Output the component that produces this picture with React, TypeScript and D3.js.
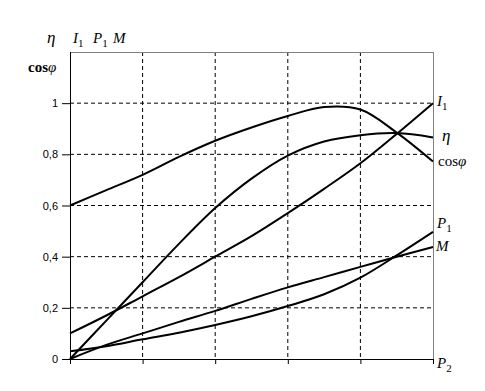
import React, { useEffect, useRef } from 'react';
import * as d3 from 'd3';

// load in relative units (5 grid divisions)
const loads = [0, 0.5, 1, 1.5, 2, 2.5, 3, 3.5, 4, 4.5, 5];

const cosPhi = [0.6, 0.66, 0.72, 0.79, 0.853, 0.905, 0.95, 0.985, 0.975, 0.885, 0.772];
const eta = [0, 0.15, 0.3, 0.45, 0.59, 0.705, 0.795, 0.85, 0.875, 0.883, 0.866];
const current = [0.1, 0.17, 0.245, 0.32, 0.4, 0.48, 0.57, 0.665, 0.765, 0.88, 1.0];
const inputPower = [0.03, 0.05, 0.077, 0.103, 0.133, 0.167, 0.207, 0.253, 0.318, 0.405, 0.497];
const torque = [0, 0.055, 0.1, 0.145, 0.188, 0.235, 0.28, 0.32, 0.36, 0.4, 0.438];

const yTicks = [0, 0.2, 0.4, 0.6, 0.8, 1];
const xTicks = [0, 1, 2, 3, 4, 5];

const App: React.FC = () => {
    const ref = useRef<SVGSVGElement | null>(null);

    useEffect(() => {
        const svg = d3.select(ref.current);
        svg.selectAll('*').remove();

        const left = 70, right = 433, top = 52, bottom = 359;
        const x = d3.scaleLinear().domain([0, 5]).range([left, right]);
        const y = d3.scaleLinear().domain([0, 1.2]).range([bottom, top]);

        const serif = '"Liberation Serif", "Times New Roman", serif';
        const sans = '"Liberation Sans", Arial, sans-serif';

        // grid
        const grid = svg.append('g').attr('stroke', '#000').attr('stroke-dasharray', '4,3');
        xTicks.slice(1, -1).forEach(t => {
            grid.append('line').attr('x1', x(t)).attr('x2', x(t)).attr('y1', top).attr('y2', bottom);
        });
        yTicks.slice(1).forEach(t => {
            grid.append('line').attr('x1', left).attr('x2', right).attr('y1', y(t)).attr('y2', y(t));
        });

        // frame: gray top and right
        svg.append('line').attr('x1', left).attr('x2', right).attr('y1', top + 0.5).attr('y2', top + 0.5).attr('stroke', '#808080');
        svg.append('line').attr('x1', right + 0.5).attr('x2', right + 0.5).attr('y1', top).attr('y2', bottom).attr('stroke', '#808080');

        // axes
        const yAxis = d3.axisLeft(y).tickValues(yTicks).tickSize(8).tickPadding(4)
            .tickFormat(d => String(d).replace('.', ','));
        const gy = svg.append('g').attr('transform', `translate(${left},0)`).call(yAxis);
        gy.selectAll('text').attr('font-family', sans).attr('font-size', 11).attr('fill', '#000');
        gy.selectAll('line').attr('stroke', '#000');
        gy.select('.domain').attr('d', `M0.5,${top}V${bottom}`).attr('stroke', '#000');

        const xAxis = d3.axisBottom(x).tickValues(xTicks).tickSize(5).tickFormat(() => '');
        const gx = svg.append('g').attr('transform', `translate(0,${bottom})`).call(xAxis);
        gx.selectAll('line').attr('stroke', '#000');
        gx.select('.domain').attr('d', `M${left},0.5H${right}`).attr('stroke', '#000');

        // curves
        const line = d3.line<number>()
            .x((_, i) => x(loads[i]))
            .y(d => y(d))
            .curve(d3.curveCatmullRom.alpha(0.5));
        [cosPhi, eta, current, inputPower, torque].forEach(series => {
            svg.append('path').attr('d', line(series)).attr('fill', 'none')
                .attr('stroke', '#000').attr('stroke-width', 2);
        });

        // labels
        const label = (tx: number, ty: number, main: string, sub?: string, italic = true, weight = 'normal', size = 15) => {
            const t = svg.append('text').attr('x', tx).attr('y', ty)
                .attr('font-family', serif).attr('font-size', size)
                .attr('font-style', italic ? 'italic' : 'normal').attr('font-weight', weight);
            t.append('tspan').text(main);
            if (sub) t.append('tspan').attr('font-size', 11).attr('font-style', 'normal').attr('dy', 4).text(sub);
            return t;
        };
        const cosLabel = (tx: number, ty: number, weight: string) => {
            const t = svg.append('text').attr('x', tx).attr('y', ty)
                .attr('font-family', serif).attr('font-size', 15).attr('font-weight', weight);
            t.append('tspan').text('cos');
            t.append('tspan').attr('font-style', 'italic').attr('font-weight', 'normal').text('φ');
        };

        label(47, 43, 'η', undefined, true, 'normal', 17);
        label(73, 43, 'I', '1');
        label(93, 43, 'P', '1');
        label(113, 43, 'M');
        cosLabel(28, 72, 'bold');

        label(437, 106, 'I', '1');
        label(442, 141, 'η', undefined, true, 'normal', 17);
        cosLabel(438, 166, 'normal');
        label(437, 228, 'P', '1');
        label(436, 251, 'M');
        label(437, 368, 'P', '2');
    }, []);

    return (
        <svg ref={ref} width={485} height={391}
            style={{ position: 'absolute', left: 0, top: 0, background: '#fff' }} />
    );
};

export default App;
